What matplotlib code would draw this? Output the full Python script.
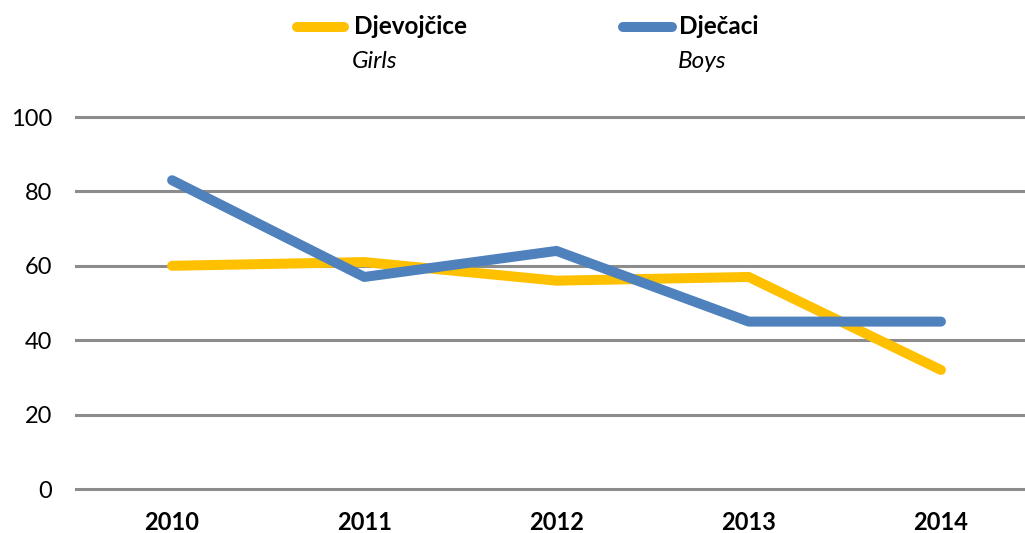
import matplotlib.pyplot as plt
from matplotlib.lines import Line2D

# data
years = ["2010", "2011", "2012", "2013", "2014"]
girls = [60, 61, 56, 57, 32]
boys = [83, 57, 64, 45, 45]
y_ticks = [0, 20, 40, 60, 80, 100]

yellow = "#FFC000"
blue = "#4F81BD"

plt.rcParams["font.family"] = ["Lato", "DejaVu Sans"]

fig = plt.figure(figsize=(10.25, 5.33), dpi=100)
ax = fig.add_axes([76 / 1025, 44 / 533, 1 - 76 / 1025, 372 / 533])

x = list(range(len(years)))
ax.plot(x, girls, color=yellow, linewidth=7.2, solid_capstyle="round",
        solid_joinstyle="round", zorder=3)
ax.plot(x, boys, color=blue, linewidth=7.2, solid_capstyle="round",
        solid_joinstyle="round", zorder=4)

ax.set_xlim(-0.5, 4.5 - 12 / 192)
ax.set_ylim(0, 100)
ax.set_yticks(y_ticks)
ax.set_xticks(x)
ax.set_xticklabels(years, fontweight="bold", fontsize=17)
ax.tick_params(axis="y", labelsize=17, length=0, pad=17)
ax.tick_params(axis="x", length=0, pad=16)
ax.yaxis.grid(True, color="#8c8c8c", linewidth=2.2)
for gl in ax.get_ygridlines():
    gl.set_clip_on(False)
ax.set_axisbelow(True)
for s in ax.spines.values():
    s.set_visible(False)

# legend built by hand to match the two-line labels
W, H = 1025, 533
fig.add_artist(Line2D([297 / W, 344 / W], [1 - 27 / H, 1 - 27 / H], color=yellow,
                      linewidth=7.2, solid_capstyle="round"))
fig.text(354 / W, 1 - 27 / H, "Djevojčice", fontsize=17.5, fontweight="bold",
         va="center", ha="left")
fig.text(352 / W, 1 - 61 / H, "Girls", fontsize=17.5, style="italic",
         va="center", ha="left")
fig.add_artist(Line2D([623 / W, 672 / W], [1 - 27 / H, 1 - 27 / H], color=blue,
                      linewidth=7.2, solid_capstyle="round"))
fig.text(679 / W, 1 - 27 / H, "Dječaci", fontsize=17.5, fontweight="bold",
         va="center", ha="left")
fig.text(678 / W, 1 - 61 / H, "Boys", fontsize=17.5, style="italic",
         va="center", ha="left")

fig.savefig("out.png", dpi=100)
